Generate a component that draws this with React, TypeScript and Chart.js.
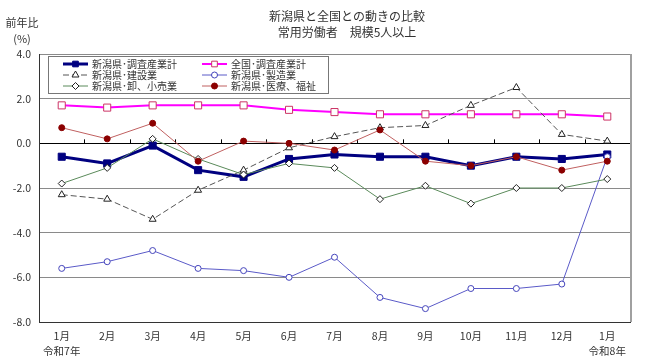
import React, { useEffect, useRef } from 'react';
import { Chart, registerables } from 'chart.js';
import { drawPoint } from 'chart.js/helpers';

Chart.register(...registerables);

const FONT = '"Noto Sans CJK JP", "Noto Sans", sans-serif';

const TITLE_LINES = ['新潟県と全国との動きの比較', '常用労働者　規模5人以上'];
const Y_TITLE = ['前年比', '(%)'];
const MONTHS = ['1月', '2月', '3月', '4月', '5月', '6月', '7月', '8月', '9月', '10月', '11月', '12月', '1月'];
const ERA_LABELS = ['令和7年', '', '', '', '', '', '', '', '', '', '', '', '令和8年'];
const Y_MIN = -8;
const Y_MAX = 4;
const Y_STEP = 2;

const SERIES_NAMES = [
  '新潟県･調査産業計',
  '全国･調査産業計',
  '新潟県･建設業',
  '新潟県･製造業',
  '新潟県･卸、小売業',
  '新潟県･医療、福祉',
];

const niigataAll = [-0.6, -0.9, -0.1, -1.2, -1.5, -0.7, -0.5, -0.6, -0.6, -1.0, -0.6, -0.7, -0.5];
const nationalAll = [1.7, 1.6, 1.7, 1.7, 1.7, 1.5, 1.4, 1.3, 1.3, 1.3, 1.3, 1.3, 1.2];
const construction = [-2.3, -2.5, -3.4, -2.1, -1.2, -0.2, 0.3, 0.7, 0.8, 1.7, 2.5, 0.4, 0.1];
const manufacturing = [-5.6, -5.3, -4.8, -5.6, -5.7, -6.0, -5.1, -6.9, -7.4, -6.5, -6.5, -6.3, -0.6];
const wholesale = [-1.8, -1.1, 0.2, -0.7, -1.4, -0.9, -1.1, -2.5, -1.9, -2.7, -2.0, -2.0, -1.6];
const medical = [0.7, 0.2, 0.9, -0.8, 0.1, 0.0, -0.3, 0.6, -0.8, -1.0, -0.6, -1.2, -0.8];

const SERIES_VALUES = [niigataAll, nationalAll, construction, manufacturing, wholesale, medical];

const STYLES = [
  { color: '#000080', width: 3, dash: [] as number[], point: 'rect', radius: 5, fill: '#000080', border: '#000080' },
  { color: '#ff00ff', width: 2, dash: [] as number[], point: 'rect', radius: 5, fill: '#ffffff', border: '#cc3366' },
  { color: '#555555', width: 1, dash: [6, 3], point: 'triangle', radius: 4, fill: '#ffffff', border: '#222222' },
  { color: '#5a5ac8', width: 1, dash: [] as number[], point: 'circle', radius: 3, fill: '#ffffff', border: '#4444bb' },
  { color: '#5a8a5a', width: 1, dash: [] as number[], point: 'rectRot', radius: 3.5, fill: '#ffffff', border: '#222222' },
  { color: '#c06060', width: 1, dash: [] as number[], point: 'circle', radius: 3, fill: '#8b0000', border: '#8b0000' },
];

const decorPlugin = {
  id: 'decor',
  beforeDatasetsDraw(chart: any) {
    const { ctx, chartArea, scales } = chart;
    const y0 = scales.y.getPixelForValue(0);
    const n = MONTHS.length;
    const step = (chartArea.right - chartArea.left) / n;
    ctx.save();
    ctx.strokeStyle = '#000';
    ctx.lineWidth = 1;
    ctx.beginPath();
    for (let i = 1; i < n; i++) {
      const x = Math.round(chartArea.left + i * step) + 0.5;
      ctx.moveTo(x, y0 - 4);
      ctx.lineTo(x, y0);
    }
    ctx.stroke();
    ctx.strokeStyle = '#a0a0a0';
    ctx.lineWidth = 2;
    ctx.beginPath();
    ctx.moveTo(chartArea.right + 1, chartArea.top);
    ctx.lineTo(chartArea.right + 1, chartArea.bottom);
    ctx.stroke();
    ctx.restore();
  },
  afterDraw(chart: any) {
    const { ctx } = chart;
    ctx.save();
    ctx.fillStyle = '#333';
    ctx.textAlign = 'center';
    ctx.textBaseline = 'middle';
    ctx.font = `12px ${FONT}`;
    ctx.fillText(TITLE_LINES[0], 347, 16);
    ctx.fillText(TITLE_LINES[1], 347, 32);
    ctx.font = `11px ${FONT}`;
    ctx.fillText(Y_TITLE[0], 22, 23);
    ctx.fillText(Y_TITLE[1], 22, 39);

    const bx = 48, by = 56, bw = 280, bh = 37;
    ctx.fillStyle = '#ffffff';
    ctx.fillRect(bx, by, bw, bh);
    ctx.strokeStyle = '#777';
    ctx.lineWidth = 1;
    ctx.strokeRect(bx + 0.5, by + 0.5, bw, bh);
    const colX = [63, 202];
    const rowY = [64, 75, 86];
    ctx.font = `10px ${FONT}`;
    ctx.textAlign = 'left';
    chart.data.datasets.forEach((ds: any, i: number) => {
      const st = STYLES[i];
      const x = colX[i % 2];
      const y = rowY[Math.floor(i / 2)];
      ctx.save();
      ctx.strokeStyle = st.color;
      ctx.lineWidth = st.width;
      ctx.setLineDash(st.dash);
      ctx.beginPath();
      ctx.moveTo(x, y);
      ctx.lineTo(x + 25, y);
      ctx.stroke();
      ctx.setLineDash([]);
      ctx.fillStyle = st.fill;
      ctx.strokeStyle = st.border;
      ctx.lineWidth = 1;
      drawPoint(ctx, { pointStyle: st.point as any, rotation: 0, radius: Math.min(st.radius, 4), borderWidth: 1 }, x + 12.5, y);
      ctx.restore();
      ctx.fillStyle = '#333';
      ctx.fillText(ds.label, x + 29, y + 0.5);
    });
    ctx.restore();
  },
};

export default function App() {
  const ref = useRef<HTMLCanvasElement>(null);
  useEffect(() => {
    document.body.style.margin = '0';
    Chart.defaults.font.family = FONT;
    const labels = MONTHS.map((m, i) => (ERA_LABELS[i] ? [m, ERA_LABELS[i]] : [m]));
    const datasets = SERIES_VALUES.map((vals, i) => {
      const st = STYLES[i];
      return {
        label: SERIES_NAMES[i],
        data: vals,
        borderColor: st.color,
        borderWidth: st.width,
        borderDash: st.dash,
        pointStyle: st.point,
        pointRadius: st.radius,
        pointBackgroundColor: st.fill,
        pointBorderColor: st.border,
        pointBorderWidth: 1,
        fill: false,
        tension: 0,
        order: SERIES_VALUES.length - i,
      };
    });
    const chart = new Chart(ref.current as HTMLCanvasElement, {
      type: 'line',
      data: { labels, datasets } as any,
      options: {
        responsive: false,
        animation: false,
        layout: { padding: { top: 54, right: 20, left: 0, bottom: 0 } },
        plugins: {
          legend: { display: false },
          title: { display: false },
          tooltip: { enabled: false },
        },
        scales: {
          x: {
            type: 'category',
            offset: true,
            grid: { display: false, drawTicks: false },
            border: { display: true, color: '#333', width: 1 },
            ticks: {
              font: { size: 10.5, family: FONT, lineHeight: 1.4 },
              color: '#333',
              padding: 7,
              maxRotation: 0,
              autoSkip: false,
            },
            afterFit: (s: any) => {
              s.height = 37;
            },
          },
          y: {
            min: Y_MIN,
            max: Y_MAX,
            ticks: {
              stepSize: Y_STEP,
              callback: (v: any) => Number(v).toFixed(1),
              padding: 8,
              font: { size: 10.5, family: FONT },
              color: '#333',
            },
            grid: {
              drawTicks: false,
              color: (c: any) => (c.tick && c.tick.value === 0 ? '#000' : '#8a8a8a'),
              lineWidth: 1,
            },
            border: { display: true, color: '#333', width: 1 },
            afterFit: (s: any) => {
              s.width = 39;
            },
          },
        },
      } as any,
      plugins: [decorPlugin],
    });
    return () => chart.destroy();
  }, []);
  return (
    <div style={{ width: 650, height: 359 }}>
      <canvas ref={ref} width={650} height={359} style={{ display: 'block' }} />
    </div>
  );
}
